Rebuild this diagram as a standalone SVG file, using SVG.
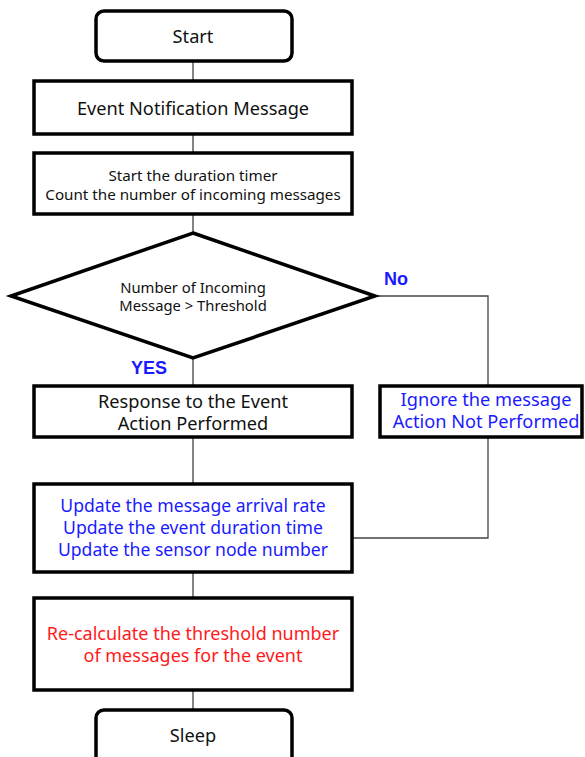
<svg xmlns="http://www.w3.org/2000/svg" width="585" height="757" viewBox="0 0 585 757">
<style>
.box{fill:#fff;stroke:#000;stroke-width:3.5}
.ln{fill:none;stroke:#444;stroke-width:1.3}
text{font-family:"Noto Sans","DejaVu Sans",sans-serif;text-anchor:middle}
.l{font-size:18.2px;fill:#111}
.s{font-size:15.2px;fill:#111}
.d{font-size:14.8px;fill:#111}
.b{font-size:18.2px;fill:#1a1aff}
.u{font-size:17.6px;fill:#1a1aff}
.r{font-size:18px;fill:#ff1a1a}
.lab{font-size:18px;fill:#1a1aff;font-weight:bold;font-family:"Liberation Sans",Arial,sans-serif}
</style>
<rect width="585" height="757" fill="#fff"/>
<g id="connectors">
<path class="ln" d="M193 61V81M193 134V153M193 214V233M193 358V386M193 437V484M193 572V598M193 690V710"/>
<path class="ln" d="M375 296H488V386M488 437V538H352"/>
</g>
<g id="start"><rect class="box" x="96" y="11" width="196" height="50" rx="8"/><text class="l" x="193" y="43">Start</text></g>
<g id="event"><rect class="box" x="34" y="81" width="318" height="53"/><text class="l" x="193" y="115">Event Notification Message</text></g>
<g id="timer"><rect class="box" x="34" y="153" width="318" height="61"/><text class="s" x="193" y="181">Start the duration timer</text><text class="s" x="193" y="200">Count the number of incoming messages</text></g>
<g id="decision"><polygon class="box" points="193,233 375,296 193,358 11,296"/><text class="d" x="193" y="293">Number of Incoming</text><text class="d" x="193" y="311.3">Message &gt; Threshold</text></g>
<text class="lab" x="396" y="285">No</text>
<text class="lab" x="149" y="374">YES</text>
<g id="response"><rect class="box" x="34" y="386" width="318" height="51"/><text class="l" x="193" y="408">Response to the Event</text><text class="l" x="193" y="430">Action Performed</text></g>
<g id="ignore"><rect class="box" x="380" y="386" width="202" height="51"/><text class="b" x="486" y="406">Ignore the message</text><text class="b" x="486" y="428">Action Not Performed</text></g>
<g id="update"><rect class="box" x="34" y="484" width="318" height="88"/><text class="u" x="193" y="512">Update the message arrival rate</text><text class="u" x="193" y="534">Update the event duration time</text><text class="u" x="193" y="556">Update the sensor node number</text></g>
<g id="recalc"><rect class="box" x="34" y="598" width="318" height="92"/><text class="r" x="193" y="640">Re-calculate the threshold number</text><text class="r" x="193" y="662.3">of messages for the event</text></g>
<g id="sleep"><rect class="box" x="96" y="710" width="196" height="56" rx="8"/><text class="l" x="193" y="742">Sleep</text></g>
</svg>
